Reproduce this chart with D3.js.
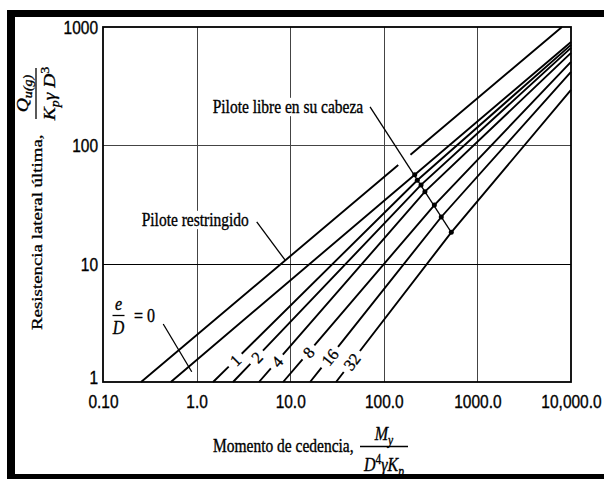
<!DOCTYPE html>
<html>
<head>
<meta charset="utf-8">
<script src="https://cdn.jsdelivr.net/npm/d3@7"></script>
<style>
  html, body { margin: 0; padding: 0; background: #fff; }
  svg { display: block; font-family: "Liberation Serif", "Times New Roman", serif; }
  svg text { fill: #000; stroke: #000; stroke-width: 0.3px; }
</style>
</head>
<body>
<svg id="chart" width="604" height="479"></svg>
<script>
// Broms' chart, cohesionless soil: ultimate lateral resistance vs. yield moment

// Axis ticks
const xTicks = [0.1, 1, 10, 100, 1000, 10000];
const xTickLabels = ["0.10", "1.0", "10.0", "100.0", "1000.0", "10,000.0"];
const yTicks = [1, 10, 100, 1000];
const yTickLabels = ["1", "10", "100", "1000"];

// Restrained-head pile: [yield moment, lateral resistance]
const restrained = [[0.255, 1], [8000, 1000]];

// Free-head piles, one curve per e/D
const eOverD      = [0, 1, 2, 4, 8, 16, 32];
const freeStartM  = [0.53, 1.50, 2.45, 4.64, 8.4, 16.3, 30.9];   // moment where Q = 1
const freeDotM    = [214, 228, 250, 275, 347, 411, 526];          // marked points
const freeDotQ    = [56.5, 50.7, 46.3, 40.6, 31.3, 24.8, 18.4];
const freeEndQ    = [748, 706, 666, 604, 507, 417, 294];          // Q at moment 10,000
const inlineLabelQ = [null, 1.53, 1.62, 1.49, 1.78, 1.62, 1.49];  // where the e/D numbers sit

// Leader lines for the annotations, in data units [M, Q]
const leaderLibre = [[71.3, 211]];               // ends on the e/D = 32 marked point
const leaderRestr = [[4.39, 22.6], [8.79, 10.75]];
const leaderZero  = [[0.44, 3.09], [0.887, 1.22]];

const SY = 1.22;      // glyphs are drawn slightly tall
const FS = 15.5;

const svg = d3.select("#chart");
const plot = { left: 103, right: 571, top: 27, bottom: 382 };

const x = d3.scaleLog().domain([0.1, 10000]).range([plot.left, plot.right]);
const y = d3.scaleLog().domain([1, 1000]).range([plot.bottom, plot.top]);

// ---- grid ----
const grid = svg.append("g").attr("stroke", "#444").attr("stroke-width", 1);
grid.selectAll("line.v").data(xTicks.slice(1, -1)).join("line")
  .attr("class", "v")
  .attr("x1", d => Math.round(x(d)) + 0.5).attr("x2", d => Math.round(x(d)) + 0.5)
  .attr("y1", plot.top).attr("y2", plot.bottom);
grid.selectAll("line.h").data(yTicks.slice(1, -1)).join("line")
  .attr("class", "h")
  .attr("y1", d => Math.round(y(d)) + 0.5).attr("y2", d => Math.round(y(d)) + 0.5)
  .attr("x1", plot.left).attr("x2", plot.right)
  .attr("stroke", d => d === 10 ? "#000" : "#444");

// ---- text helpers ----
function hText(parent, x0, y0, str, opts = {}) {
  const g = parent.append("g").attr("transform", `translate(${x0},${y0}) scale(1,${SY})`);
  const t = g.append("text")
    .attr("font-size", opts.size || FS)
    .attr("text-anchor", opts.anchor || "start")
    .text(str);
  if (opts.knockout) {
    const b = t.node().getBBox();
    g.insert("rect", "text")
      .attr("x", b.x - 2).attr("y", b.y + 1)
      .attr("width", b.width + 4).attr("height", b.height - 2)
      .attr("fill", "#fff").attr("stroke", "none");
  }
  return g;
}

// ---- annotation labels ----
const ann = svg.append("g");
hText(ann, 212.7, 113, "Pilote libre en su cabeza", { knockout: true });
hText(ann, 141.7, 226, "Pilote restringido", { knockout: true });

// e/D = 0
{
  const g = ann.append("g");
  hText(g, 118.5, 310, "e", { anchor: "middle", size: 16 }).select("text").attr("font-style", "italic");
  g.append("line").attr("x1", 112.5).attr("x2", 124.5).attr("y1", 315.5).attr("y2", 315.5)
    .attr("stroke", "#000").attr("stroke-width", 1.3);
  hText(g, 118.5, 333.5, "D", { anchor: "middle", size: 16 }).select("text").attr("font-style", "italic");
  hText(g, 134, 322, "= 0", { size: 16 });
}

// ---- curves ----
const line = d3.line().x(d => x(d[0])).y(d => y(d[1]));
const curves = svg.append("g").attr("fill", "none").attr("stroke", "#000").attr("stroke-width", 1.9);

const px = d => [x(d[0]), y(d[1])];
const dist = (a, b) => Math.hypot(b[0] - a[0], b[1] - a[1]);

function segIntersect(p1, p2, p3, p4) {
  const d = (p2[0] - p1[0]) * (p4[1] - p3[1]) - (p2[1] - p1[1]) * (p4[0] - p3[0]);
  if (Math.abs(d) < 1e-9) return null;
  const t = ((p3[0] - p1[0]) * (p4[1] - p3[1]) - (p3[1] - p1[1]) * (p4[0] - p3[0])) / d;
  return [p1[0] + t * (p2[0] - p1[0]), p1[1] + t * (p2[1] - p1[1]), t];
}

// free-head curves with the e/D numbers written into a break in each line
const freeSeries = eOverD.map((e, i) => ({
  e,
  pts: [[freeStartM[i], 1], [freeDotM[i], freeDotQ[i]], [10000, freeEndQ[i]]],
  labelQ: inlineLabelQ[i]
}));

const numLabels = svg.append("g");
freeSeries.forEach(s => {
  const path = curves.append("path").attr("d", line(s.pts));
  if (s.labelQ == null) return;
  const p0 = px(s.pts[0]), p1 = px(s.pts[1]);
  const t = (y(s.labelQ) - p0[1]) / (p1[1] - p0[1]);
  const P = [p0[0] + t * (p1[0] - p0[0]), p0[1] + t * (p1[1] - p0[1])];
  const ang = Math.atan2(p1[1] - p0[1], p1[0] - p0[0]) * 180 / Math.PI;
  const txt = numLabels.append("text")
    .attr("transform", `translate(${P[0]},${P[1]}) rotate(${ang})`)
    .attr("font-size", 16.5)
    .attr("text-anchor", "middle")
    .attr("dy", "0.36em")
    .text(String(s.e));
  const half = txt.node().getComputedTextLength() / 2 + 5;
  const d0 = t * dist(p0, p1);
  const L = path.node().getTotalLength();
  path.attr("stroke-dasharray", `${d0 - half} ${2 * half} ${L}`);
});

// restrained-head line, broken where the free-head leader crosses it
const libreStart = px(leaderLibre[0]);
const libreEnd = px(freeSeries[freeSeries.length - 1].pts[1]);
{
  const path = curves.append("path").attr("d", line(restrained));
  const r0 = px(restrained[0]), r1 = px(restrained[1]);
  const ip = segIntersect(r0, r1, libreStart, libreEnd);
  const L = path.node().getTotalLength();
  const dc = ip[2] * L;
  path.attr("stroke-dasharray", `${dc - 8} 16 ${L}`);
}

// marked points
svg.append("g").selectAll("circle").data(freeSeries).join("circle")
  .attr("cx", s => x(s.pts[1][0])).attr("cy", s => y(s.pts[1][1]))
  .attr("r", 2.5).attr("fill", "#000");

// leaders
const leaders = svg.append("g").attr("stroke", "#000").attr("stroke-width", 1.3);
leaders.append("line")
  .attr("x1", libreStart[0]).attr("y1", libreStart[1])
  .attr("x2", libreEnd[0]).attr("y2", libreEnd[1]);
[leaderRestr, leaderZero].forEach(l => {
  leaders.append("line")
    .attr("x1", x(l[0][0])).attr("y1", y(l[0][1]))
    .attr("x2", x(l[1][0])).attr("y2", y(l[1][1]));
});

// ---- plot border ----
svg.append("rect")
  .attr("x", plot.left).attr("y", plot.top)
  .attr("width", plot.right - plot.left).attr("height", plot.bottom - plot.top)
  .attr("fill", "none").attr("stroke", "#000").attr("stroke-width", 1.8);

// ---- axes ----
const xAxis = svg.append("g")
  .attr("transform", `translate(0,${plot.bottom})`)
  .call(d3.axisBottom(x).tickValues(xTicks).tickSize(0)
    .tickFormat((d, i) => xTickLabels[i]));
xAxis.select(".domain").remove();
xAxis.selectAll("text")
  .attr("y", null).attr("dy", "0.35em")
  .attr("transform", `translate(0,19.5) scale(1,${SY})`)
  .attr("font-size", 15.5).attr("font-family", null).attr("fill", "#000");

const yAxis = svg.append("g")
  .attr("transform", `translate(${plot.left},0)`)
  .call(d3.axisLeft(y).tickValues(yTicks).tickSize(0)
    .tickFormat((d, i) => yTickLabels[i]));
yAxis.select(".domain").remove();
yAxis.selectAll("text")
  .attr("x", -5).attr("dy", "0.35em")
  .attr("transform", `scale(1,${SY})`)
  .attr("font-size", 15.5).attr("font-family", null).attr("fill", "#000");
yAxis.selectAll(".tick").filter(d => d === 1).select("text").attr("dy", "0.1em");

// ---- y-axis title ----
{
  const g = svg.append("g")
    .attr("transform", `translate(42,330) scale(1,${SY}) rotate(-90)`);
  g.append("text").attr("font-size", FS).text("Resistencia lateral última,");

  const f = svg.append("g")
    .attr("transform", `translate(0,93.5) scale(1,${SY}) rotate(-90)`);
  const num = f.append("text").attr("font-size", 16).attr("text-anchor", "middle")
    .attr("x", 0).attr("y", 28);
  num.append("tspan").attr("font-style", "italic").text("Q");
  num.append("tspan").attr("font-style", "italic").attr("font-size", 11.5).attr("dy", 4).text("u(g)");
  f.append("line").attr("x1", -21).attr("x2", 21).attr("y1", 36).attr("y2", 36)
    .attr("stroke", "#000").attr("stroke-width", 1.3);
  const den = f.append("text").attr("font-size", 16).attr("text-anchor", "middle")
    .attr("x", 0).attr("y", 55);
  den.append("tspan").attr("font-style", "italic").text("K");
  den.append("tspan").attr("font-style", "italic").attr("font-size", 11.5).attr("dy", 4).text("p");
  den.append("tspan").attr("font-style", "italic").attr("dy", -4).text("γ");
  den.append("tspan").attr("font-style", "italic").text(" D");
  den.append("tspan").attr("font-size", 11.5).attr("dy", -6).text("3");
}

// ---- x-axis title ----
{
  const g = svg.append("g");
  hText(g, 213, 452, "Momento de cedencia,");
  const n = g.append("g").attr("transform", `translate(384,440) scale(1,${SY})`);
  const nt = n.append("text").attr("font-size", 16).attr("text-anchor", "middle");
  nt.append("tspan").attr("font-style", "italic").text("M");
  nt.append("tspan").attr("font-style", "italic").attr("font-size", 11.5).attr("dy", 4).text("y");
  g.append("line").attr("x1", 360).attr("x2", 408).attr("y1", 446.5).attr("y2", 446.5)
    .attr("stroke", "#000").attr("stroke-width", 1.3);
  const d = g.append("g").attr("transform", `translate(384,471) scale(1,${SY})`);
  const dt = d.append("text").attr("font-size", 16).attr("text-anchor", "middle");
  dt.append("tspan").attr("font-style", "italic").text("D");
  dt.append("tspan").attr("font-size", 11.5).attr("dy", -6).text("4");
  dt.append("tspan").attr("font-style", "italic").attr("dy", 6).text("γ");
  dt.append("tspan").attr("font-style", "italic").text("K");
  dt.append("tspan").attr("font-style", "italic").attr("font-size", 11.5).attr("dy", 4).text("p");
}

// ---- outer black frame ----
const frame = svg.append("g").attr("fill", "#000");
frame.append("rect").attr("x", 7).attr("y", 10).attr("width", 8).attr("height", 469);
frame.append("rect").attr("x", 7).attr("y", 10).attr("width", 597).attr("height", 7);
frame.append("rect").attr("x", 7).attr("y", 474).attr("width", 597).attr("height", 5);
</script>
</body>
</html>
